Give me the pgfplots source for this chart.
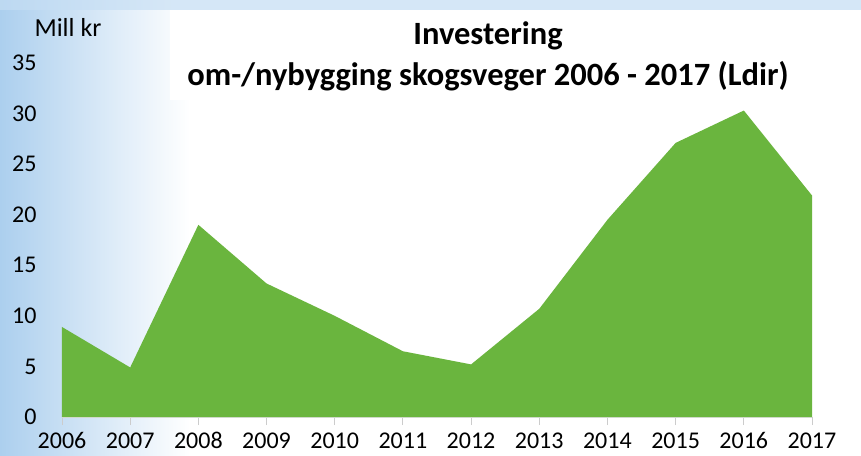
\documentclass[border=0pt]{standalone}
\usepackage{fontspec}
\setmainfont{Carlito}
\usepackage{pgfplots}
\pgfplotsset{compat=1.18}
\definecolor{areagreen}{RGB}{106,181,62}
\definecolor{bgblue}{RGB}{172,207,238}
\begin{document}
\begin{tikzpicture}[x=1pt,y=1pt]
\useasboundingbox (0,0) rectangle (861,455);
\fill[white] (0,0) rectangle (861,455);
\shade[left color=bgblue, right color=white] (0,0) rectangle (190,455);
\fill[bgblue!50] (0,445) rectangle (861,455);
\shade[left color=bgblue!80, right color=bgblue!50] (0,445) rectangle (170,455);
\fill[white] (170,355) rectangle (861,445);
\begin{axis}[
  at={(62pt,38pt)}, anchor=south west,
  scale only axis, width=750pt, height=354pt,
  xmin=2006, xmax=2017, ymin=0, ymax=35,
  axis x line*=bottom, axis y line*=left,
  x axis line style={draw=gray!25},
  y axis line style={draw=none},
  xtick={2006,...,2017},
  ytick={0,5,...,35},
  xtick style={draw=gray!40, thick},
  ytick style={draw=none},
  tick align=outside, major tick length=8pt,
  tick label style={font=\fontsize{24}{24}\selectfont, /pgf/number format/assume math mode=true},
  x tick label style={/pgf/number format/1000 sep={}, yshift=-4pt},
  y tick label style={xshift=-14pt},
  clip=false,
]
\addplot[fill=areagreen, draw=none] coordinates {
  (2006,8.9) (2007,4.9) (2008,19.0) (2009,13.2) (2010,10.0) (2011,6.5)
  (2012,5.2) (2013,10.7) (2014,19.5) (2015,27.1) (2016,30.3) (2017,21.9)
} \closedcycle;
\end{axis}
\node[font=\fontsize{26}{26}\selectfont] at (68,428) {Mill kr};
\node[font=\bfseries\fontsize{32.5}{32.5}\selectfont] at (488,419) {Investering};
\node[font=\bfseries\fontsize{32.5}{32.5}\selectfont] at (488,379) {om-/nybygging skogsveger 2006 - 2017 (Ldir)};
\end{tikzpicture}
\end{document}
